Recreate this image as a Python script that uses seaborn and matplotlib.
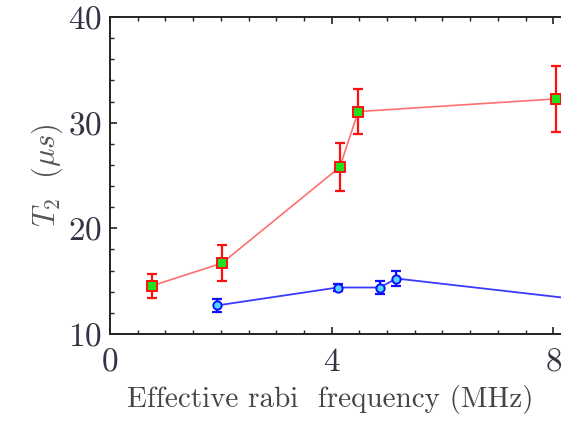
import numpy as np
import pandas as pd
import matplotlib
matplotlib.use("Agg")
import matplotlib.pyplot as plt
from matplotlib.ticker import MultipleLocator
import seaborn as sns

# data
red_freq = [0.75, 2.02, 4.15, 4.48, 8.05]
red_t2 = [14.55, 16.7, 25.8, 31.05, 32.25]
red_err = [1.1, 1.7, 2.3, 2.1, 3.1]

blue_freq = [1.93, 4.11, 4.87, 5.17, 9.0]
blue_t2 = [12.7, 14.4, 14.4, 15.25, 12.95]
blue_err = [0.65, 0.3, 0.65, 0.7, 0.6]

sns.set_style("ticks")
plt.rcParams['font.family'] = ['serif']
plt.rcParams['font.serif'] = ['cmr10', 'DejaVu Serif']
plt.rcParams['mathtext.fontset'] = 'cm'
plt.rcParams['axes.formatter.use_mathtext'] = True

fig = plt.figure(figsize=(5.61, 4.21), dpi=100)
ax = fig.add_axes([110 / 561, 87 / 421, 554 / 561, 317 / 421])

red_df = pd.DataFrame({'freq': red_freq, 't2': red_t2})
blue_df = pd.DataFrame({'freq': blue_freq, 't2': blue_t2})

# blue series
ax.errorbar(blue_freq, blue_t2, yerr=blue_err, fmt='none', ecolor='#1010ff',
            elinewidth=1.6, capsize=3.5, capthick=1.6, zorder=3)
sns.lineplot(data=blue_df, x='freq', y='t2', ax=ax, color='#3a3aff', linewidth=1.3,
             marker='o', markersize=6, markerfacecolor='#50d8ff',
             markeredgecolor='#1010ff', markeredgewidth=1.4, zorder=4)

# red series
ax.errorbar(red_freq, red_t2, yerr=red_err, fmt='none', ecolor='#ff1010',
            elinewidth=1.6, capsize=3.5, capthick=1.6, zorder=3)
sns.lineplot(data=red_df, x='freq', y='t2', ax=ax, color='#ff7070', linewidth=1.2,
             marker='s', markersize=6.5, markerfacecolor='#20e020',
             markeredgecolor='#ff1010', markeredgewidth=1.4, zorder=4)

ax.set_xlim(0, 10)
ax.set_ylim(10, 40)
ax.xaxis.set_major_locator(MultipleLocator(4))
ax.xaxis.set_minor_locator(MultipleLocator(0.5))
ax.yaxis.set_major_locator(MultipleLocator(10))
ax.yaxis.set_minor_locator(MultipleLocator(2))
ax.tick_params(which='both', direction='in', top=True, right=True, colors='#222222')
ax.tick_params(which='major', length=5, width=1.2, labelsize=24, labelcolor='#333344')
ax.tick_params(axis='x', which='major', pad=10)
ax.tick_params(axis='y', which='major', pad=6)
ax.tick_params(which='minor', length=3, width=1.0)
for sp in ax.spines.values():
    sp.set_linewidth(1.4)
    sp.set_color('#222222')

ax.set_xlabel('Effective rabi  frequency (MHz)', fontsize=21, color='#444444')
ax.xaxis.set_label_coords((330 - 110) / 554, -0.16)
ax.set_ylabel(r'$T_2\ \ (\mu s)$', fontsize=22, color='#555555', labelpad=2)

fig.savefig('out.png', dpi=100)
